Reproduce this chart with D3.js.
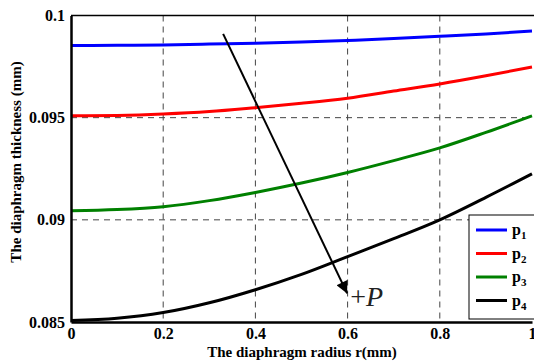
<!DOCTYPE html>
<html>
<head>
<meta charset="utf-8">
<script src="https://cdn.jsdelivr.net/npm/d3@7"></script>
<style>
  body { margin: 0; background: #fff; }
</style>
</head>
<body>
<svg id="chart" width="534" height="363"></svg>
<script>
// radius r (mm)
var radius = [0, 0.1, 0.2, 0.3, 0.4, 0.5, 0.6, 0.7, 0.8, 0.9, 1];
// thickness (mm) for each pressure
var p1 = [0.09853, 0.09854, 0.09856, 0.0986, 0.09864, 0.0987, 0.09878, 0.09887, 0.09898, 0.0991, 0.09924];
var p2 = [0.09509, 0.09511, 0.09518, 0.0953, 0.09549, 0.0957, 0.09595, 0.0963, 0.09665, 0.09705, 0.09748];
var p3 = [0.09044, 0.0905, 0.09064, 0.09094, 0.09134, 0.0918, 0.09232, 0.0929, 0.09352, 0.09428, 0.09509];
var p4 = [0.08507, 0.08518, 0.08546, 0.08594, 0.08658, 0.08733, 0.0882, 0.08908, 0.09, 0.0911, 0.09225];
var seriesNames = ["p1", "p2", "p3", "p4"];
var colors = ["#0000ff", "#ff0000", "#008000", "#000000"];
var xTicks = [0, 0.2, 0.4, 0.6, 0.8, 1];
var yTicks = [0.085, 0.09, 0.095, 0.1];
var arrowFrom = [0.33, 0.0991];
var arrowTo = [0.599, 0.0864];

var serif = "'Liberation Serif', 'Times New Roman', 'DejaVu Serif', serif";

var svg = d3.select("#chart");
var margin = {top: 15.5, left: 71};
var g = svg.append("g").attr("transform", `translate(${margin.left}, ${margin.top})`);

var x = d3.scaleLinear().domain([0, 1]).range([0, 461]);
var y = d3.scaleLinear().domain([0.085, 0.1]).range([306.5, 0]);

var defs = svg.append("defs");
defs.append("clipPath").attr("id", "clip")
  .append("rect").attr("x", 0).attr("y", -2).attr("width", 470).attr("height", 312);

// grid
g.selectAll(".vgrid").data(xTicks.slice(1, 5)).enter().append("line")
  .attr("x1", d => x(d)).attr("x2", d => x(d))
  .attr("y1", 0).attr("y2", y(0.085))
  .attr("stroke", "#444").attr("stroke-width", 1).attr("stroke-dasharray", "6,5");
g.selectAll(".hgrid").data([0.09, 0.095]).enter().append("line")
  .attr("x1", 0).attr("x2", x(1))
  .attr("y1", d => y(d)).attr("y2", d => y(d))
  .attr("stroke", "#444").attr("stroke-width", 1).attr("stroke-dasharray", "6,5");

// curves
var line = d3.line()
  .x((d, i) => x(radius[i]))
  .y(d => y(d))
  .curve(d3.curveMonotoneX);

var allSeries = [p1, p2, p3, p4];
g.append("g").attr("clip-path", "url(#clip)")
  .selectAll("path").data(allSeries).enter().append("path")
  .attr("fill", "none")
  .attr("stroke", (d, i) => colors[i])
  .attr("stroke-width", 3)
  .attr("d", line);

// frame
g.append("line").attr("x1", 0).attr("x2", x(1) + 5).attr("y1", 0).attr("y2", 0)
  .attr("stroke", "#000").attr("stroke-width", 1.5);

var xAxis = g.append("g").attr("transform", `translate(0, ${y(0.085)})`)
  .call(d3.axisBottom(x).tickValues(xTicks).tickFormat(d3.format("")).tickSize(0).tickPadding(6));
var yAxis = g.append("g")
  .call(d3.axisLeft(y).tickValues(yTicks).tickFormat(d3.format("")).tickSize(0).tickPadding(6));
[xAxis, yAxis].forEach(a => {
  a.attr("font-family", null);
  a.select(".domain").attr("stroke", "#000").attr("stroke-width", 2.5);
  a.selectAll("text").style("font-size", "16px").attr("fill", "#000")
    .style("font-family", serif).style("font-weight", "bold");
});
yAxis.selectAll("text").attr("dy", "0.32em");

// arrow
defs.append("marker").attr("id", "head")
  .attr("viewBox", "0 0 10 10").attr("refX", 10).attr("refY", 5)
  .attr("markerWidth", 16).attr("markerHeight", 12).attr("markerUnits", "userSpaceOnUse")
  .attr("orient", "auto")
  .append("path").attr("d", "M0,0 L10,5 L0,10 Z").attr("fill", "#000");

g.append("line")
  .attr("x1", x(arrowFrom[0])).attr("y1", y(arrowFrom[1]))
  .attr("x2", x(arrowTo[0])).attr("y2", y(arrowTo[1]))
  .attr("stroke", "#000").attr("stroke-width", 2)
  .attr("marker-end", "url(#head)");

var plusP = g.append("text")
  .attr("x", x(arrowTo[0]) + 3).attr("y", y(arrowTo[1]) + 13)
  .style("font-family", serif).style("font-size", "28px").style("font-weight", "normal")
  .attr("fill", "#222");
plusP.append("tspan").text("+");
plusP.append("tspan").style("font-style", "italic").text("P");

// axis titles
svg.append("text").attr("x", 302).attr("y", 357)
  .attr("text-anchor", "middle")
  .style("font-family", serif).style("font-size", "15px").style("font-weight", "bold")
  .text("The diaphragm radius r(mm)");
svg.append("text").attr("transform", "translate(21, 162) rotate(-90)")
  .attr("text-anchor", "middle")
  .style("font-family", serif).style("font-size", "15px").style("font-weight", "bold")
  .text("The diaphragm thickness (mm)");

// legend
var legend = svg.append("g").attr("transform", "translate(469, 215)");
legend.append("rect").attr("x", 0).attr("y", 0).attr("width", 70).attr("height", 104)
  .attr("fill", "#fff").attr("stroke", "#000").attr("stroke-width", 1);
var items = legend.selectAll(".item").data(seriesNames).enter().append("g")
  .attr("transform", (d, i) => `translate(0, ${15 + i * 23.5})`);
items.append("line").attr("x1", 7).attr("x2", 38).attr("y1", 0).attr("y2", 0)
  .attr("stroke", (d, i) => colors[i]).attr("stroke-width", 3);
var lt = items.append("text").attr("x", 43).attr("y", 5)
  .style("font-family", serif).style("font-size", "16px").style("font-weight", "bold");
lt.append("tspan").text("p");
lt.append("tspan").style("font-size", "11px").attr("dy", 4).text(d => d.slice(1));
</script>
</body>
</html>
